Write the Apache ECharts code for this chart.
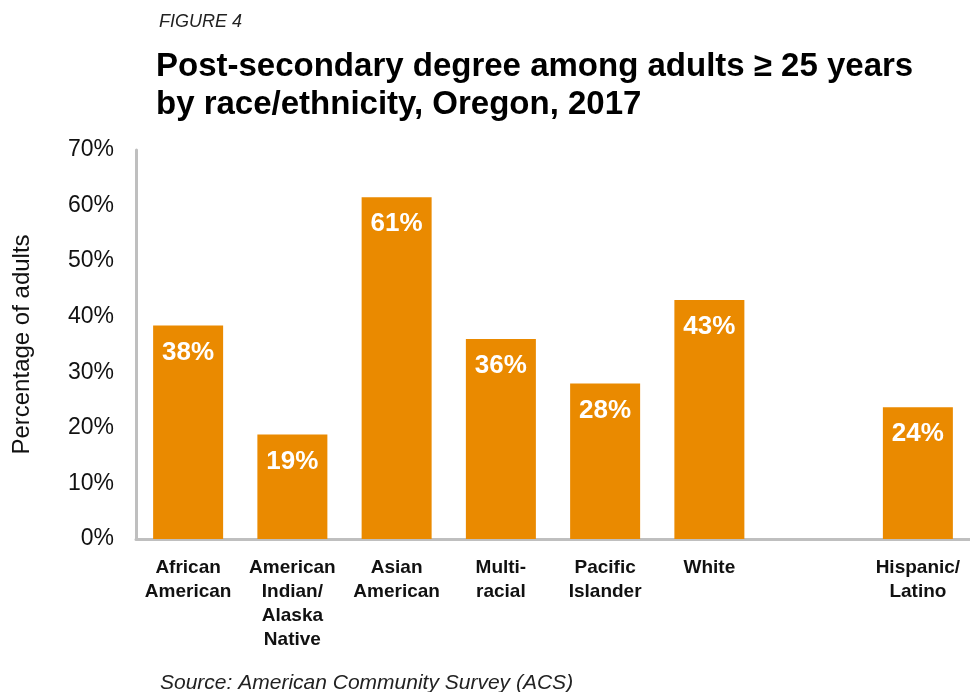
<!DOCTYPE html>
<html>
<head>
<meta charset="utf-8">
<script src="https://cdn.jsdelivr.net/npm/echarts@6/dist/echarts.min.js"></script>
<style>
  html, body { margin: 0; padding: 0; background: #fff; }
  #chart { width: 970px; height: 692px; }
</style>
</head>
<body>
<div id="chart"></div>
<script>
// categories (empty slot keeps the gap before Hispanic/Latino)
var categories = [
    "African\nAmerican",
    "American\nIndian/\nAlaska\nNative",
    "Asian\nAmerican",
    "Multi-\nracial",
    "Pacific\nIslander",
    "White",
    "",
    "Hispanic/\nLatino"
];
// percent of adults with post-secondary degree
var values = [38.4, 18.8, 61.5, 36.0, 28.0, 43.0, null, 23.7];
var valueLabels = ["38%", "19%", "61%", "36%", "28%", "43%", "", "24%"];
var yTicks = [0, 10, 20, 30, 40, 50, 60, 70];

var barColor = "#EA8A00";
var font = "Liberation Sans, Arial, sans-serif";

var myChart = echarts.init(document.getElementById("chart"));

var option = {
    animation: false,
    title: [
        {
            text: "FIGURE 4",
            left: 154,
            top: 8,
            textStyle: {fontFamily: font, fontStyle: "italic", fontWeight: "normal", fontSize: 18, color: "#222"}
        },
        {
            text: "Post-secondary degree among adults \u2265 25 years\nby race/ethnicity, Oregon, 2017",
            left: 151,
            top: 43,
            textStyle: {fontFamily: font, fontWeight: "bold", fontSize: 33, lineHeight: 38, color: "#000"}
        },
        {
            text: "Source: American Community Survey (ACS)",
            left: 155,
            top: 668,
            textStyle: {fontFamily: font, fontStyle: "italic", fontWeight: "normal", fontSize: 21, color: "#222"}
        }
    ],
    grid: {
        left: 136,
        top: 150,
        width: 837,
        height: 389
    },
    xAxis: {
        type: "category",
        data: categories,
        axisLine: {lineStyle: {color: "#BFBFBF", width: 3}},
        axisTick: {show: false},
        axisLabel: {
            interval: 0,
            margin: 17,
            fontFamily: font,
            fontWeight: "bold",
            fontSize: 19,
            lineHeight: 24,
            color: "#111"
        }
    },
    yAxis: {
        type: "value",
        min: 0,
        max: 70,
        interval: 10,
        name: "Percentage of adults",
        nameLocation: "middle",
        nameGap: 102,
        nameTextStyle: {fontFamily: font, fontSize: 24, color: "#111"},
        axisLine: {show: true, lineStyle: {color: "#BFBFBF", width: 3}},
        axisTick: {show: false},
        splitLine: {show: false},
        axisLabel: {
            margin: 22,
            fontFamily: font,
            fontSize: 23,
            color: "#111",
            formatter: function(v) {
                return yTicks.indexOf(v) >= 0 ? v + "%" : "";
            }
        }
    },
    series: [
        {
            type: "bar",
            data: values,
            barWidth: 70,
            itemStyle: {color: barColor},
            label: {
                show: true,
                position: "insideTop",
                distance: 14,
                fontFamily: font,
                fontWeight: "bold",
                fontSize: 26,
                color: "#fff",
                formatter: function(p) {
                    return valueLabels[p.dataIndex];
                }
            }
        }
    ]
};

myChart.setOption(option);
</script>
</body>
</html>
